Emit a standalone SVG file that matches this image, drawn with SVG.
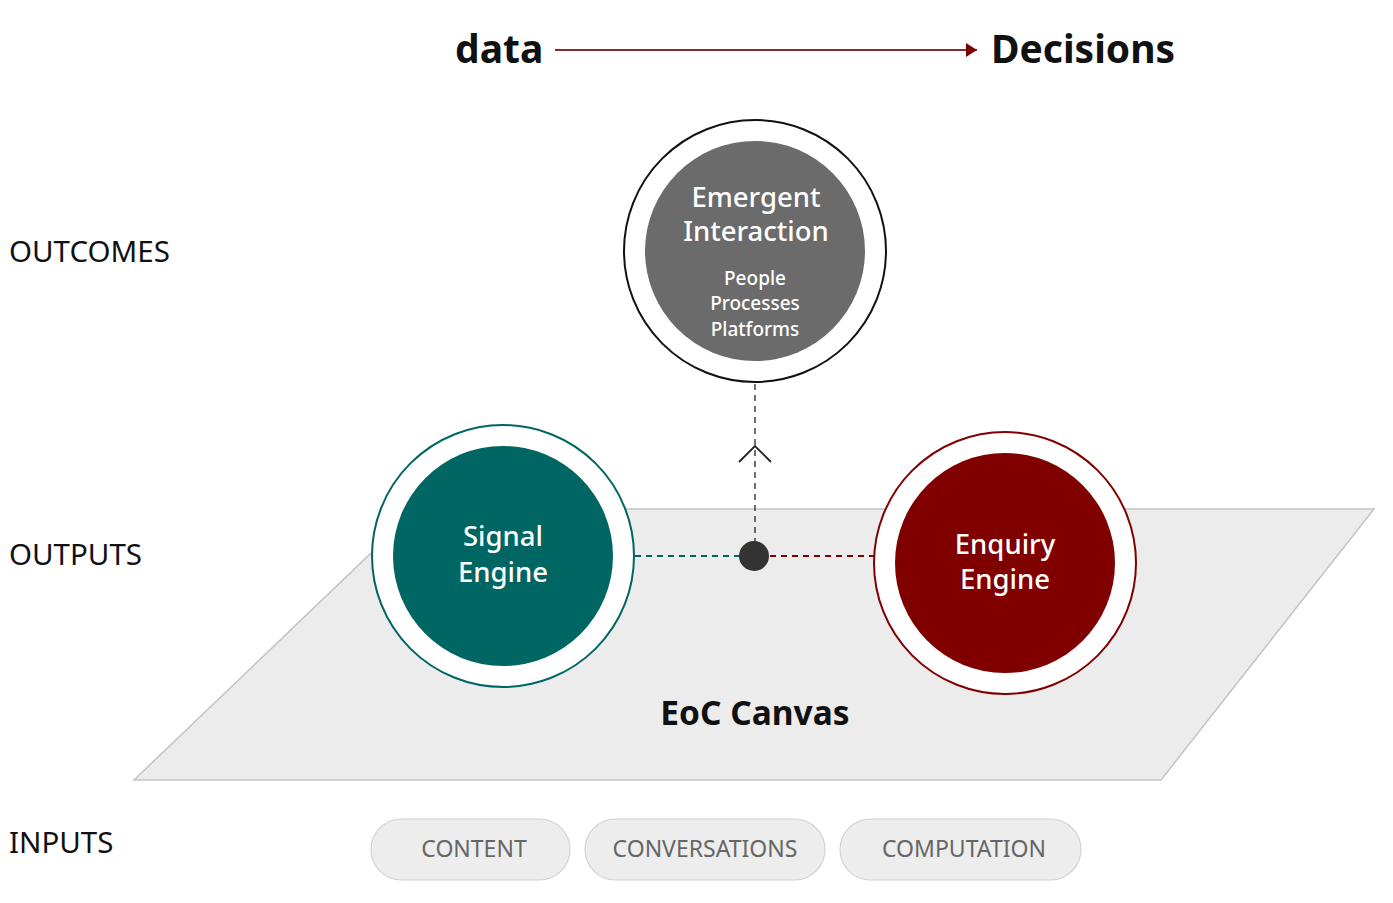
<svg xmlns="http://www.w3.org/2000/svg" width="1393" height="903" viewBox="0 0 1393 903">
<style>
text{font-family:"Noto Sans","Open Sans","Liberation Sans",sans-serif}
.lbl{font-size:29.5px;fill:#111}
.head{font-size:39px;font-weight:bold;fill:#111}
.wt{fill:#fff;text-anchor:middle;font-weight:500}
.big{font-size:27.5px}
.small{font-size:19px}
.pill{fill:#ededed;stroke:#d2d2d2;stroke-width:1.2}
.pt{font-size:23px;fill:#666;text-anchor:middle}
</style>
<defs>
<marker id="tri" markerWidth="12" markerHeight="14" refX="11" refY="7" orient="auto" markerUnits="userSpaceOnUse">
<path d="M0,0 L11,7 L0,14 z" fill="#7a0000"/>
</marker>
</defs>
<rect width="1393" height="903" fill="#fff"/>
<g id="header">
<text class="head" x="455" y="63">data</text>
<line x1="555" y1="50" x2="977" y2="50" stroke="#8b2a2a" stroke-width="1.8" marker-end="url(#tri)"/>
<text class="head" x="991" y="63">Decisions</text>
</g>
<g id="row-labels">
<text class="lbl" x="9" y="262">OUTCOMES</text>
<text class="lbl" x="9" y="565">OUTPUTS</text>
<text class="lbl" x="9" y="853">INPUTS</text>
</g>
<g id="canvas">
<polygon points="417,509 1374,509 1161,780 134,780" fill="#ececec" stroke="#c4c4c4" stroke-width="1.5"/>
<text x="755" y="725" text-anchor="middle" font-size="33.5" font-weight="bold" fill="#111">EoC Canvas</text>
</g>
<g id="connectors">
<line x1="755" y1="384" x2="755" y2="556" stroke="#222" stroke-width="1.3" stroke-dasharray="6,5"/>
<polyline points="739,462 755,446 771,462" fill="none" stroke="#222" stroke-width="1.8"/>
<line x1="635" y1="556" x2="740" y2="556" stroke="#006663" stroke-width="2" stroke-dasharray="6,5"/>
<line x1="770" y1="556" x2="874" y2="556" stroke="#800000" stroke-width="2" stroke-dasharray="6,5"/>
<circle cx="754" cy="556" r="15" fill="#333"/>
</g>
<g id="emergent">
<circle cx="755" cy="251" r="131" fill="#fff" stroke="#111" stroke-width="2"/>
<circle cx="755" cy="251" r="110" fill="#6b6b6b"/>
<text class="wt big" x="756" y="207">Emergent</text>
<text class="wt big" x="756" y="241">Interaction</text>
<text class="wt small" x="755" y="285">People</text>
<text class="wt small" x="755" y="310">Processes</text>
<text class="wt small" x="755" y="336">Platforms</text>
</g>
<g id="signal">
<circle cx="503" cy="556" r="131" fill="#fff" stroke="#006663" stroke-width="2"/>
<circle cx="503" cy="556" r="110" fill="#006663"/>
<text class="wt big" x="503" y="546">Signal</text>
<text class="wt big" x="503" y="582">Engine</text>
</g>
<g id="enquiry">
<circle cx="1005" cy="563" r="131" fill="#fff" stroke="#800000" stroke-width="2"/>
<circle cx="1005" cy="563" r="110" fill="#800000"/>
<text class="wt big" x="1005" y="554">Enquiry</text>
<text class="wt big" x="1005" y="589">Engine</text>
</g>
<g id="inputs">
<rect class="pill" x="371" y="819" width="199" height="61" rx="30.5"/>
<text class="pt" x="474" y="857">CONTENT</text>
<rect class="pill" x="585" y="819" width="240" height="61" rx="30.5"/>
<text class="pt" x="705" y="857">CONVERSATIONS</text>
<rect class="pill" x="840" y="819" width="241" height="61" rx="30.5"/>
<text class="pt" x="964" y="857">COMPUTATION</text>
</g>
</svg>
